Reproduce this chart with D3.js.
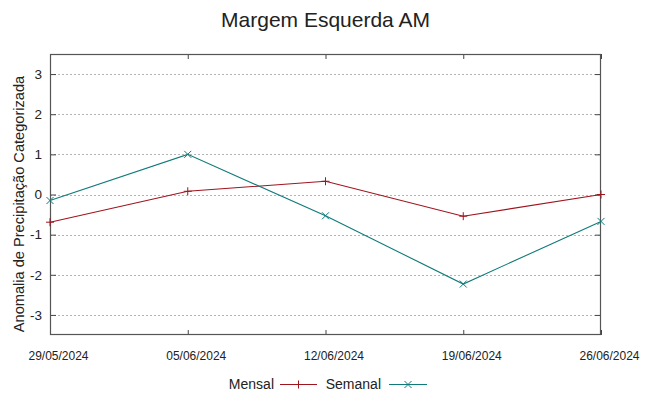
<!DOCTYPE html>
<html>
<head>
<meta charset="utf-8">
<script src="https://cdn.jsdelivr.net/npm/d3@7"></script>
<style>
  body { margin: 0; background: #fff; }
  text { font-family: "Liberation Sans", Arial, sans-serif; fill: #222; }
</style>
</head>
<body>
<svg id="chart" width="649" height="396"></svg>
<script>
const title = "Margem Esquerda AM";
const yLabel = "Anomalia de Precipitação Categorizada";
const dates = ["29/05/2024", "05/06/2024", "12/06/2024", "19/06/2024", "26/06/2024"];
const mensal = [-0.69, 0.08, 0.33, -0.54, 0.0];
const semanal = [-0.15, 1.0, -0.53, -2.23, -0.67];
const yTicks = [-3, -2, -1, 0, 1, 2, 3];
const seriesNames = ["Mensal", "Semanal"];
const colors = ["#a0141e", "#0f7a7a"];

const svg = d3.select("#chart");
const mLeft = 50, mRight = 601, mTop = 54, mBottom = 335;

const parse = d3.timeParse("%d/%m/%Y");
const xDates = dates.map(parse);
const x = d3.scaleTime().domain([xDates[0], xDates[xDates.length - 1]]).range([mLeft, mRight]);
const y = d3.scaleLinear().domain([-3.5, 3.5]).range([mBottom, mTop]);

// grid
svg.append("g").selectAll("line").data(yTicks).join("line")
  .attr("x1", mLeft).attr("x2", mRight)
  .attr("y1", d => Math.round(y(d)) + 0.5).attr("y2", d => Math.round(y(d)) + 0.5)
  .attr("stroke", "#b4b4b4").attr("stroke-width", 1).attr("stroke-dasharray", "2,2");

// y axis (left) ticks inward + labels
const yAxis = d3.axisLeft(y).tickValues(yTicks).tickSize(-6).tickPadding(8).tickFormat(d => String(d));
const gy = svg.append("g").attr("transform", `translate(${mLeft},0)`).call(yAxis);
gy.select(".domain").remove();
gy.selectAll(".tick line").attr("stroke", "#444");
gy.selectAll(".tick text").attr("font-size", 13.5).attr("font-family", "Liberation Sans, Arial, sans-serif").attr("fill", "#222");
// right mirror ticks
const gyr = svg.append("g").attr("transform", `translate(${mRight},0)`)
  .call(d3.axisRight(y).tickValues(yTicks).tickSize(-6).tickFormat(""));
gyr.select(".domain").remove();
gyr.selectAll(".tick line").attr("stroke", "#444");

// x axis ticks
const gx = svg.append("g").attr("transform", `translate(0,${mBottom})`)
  .call(d3.axisBottom(x).tickValues(xDates).tickSize(-5).tickPadding(16).tickFormat(d3.timeFormat("%d/%m/%Y")));
gx.select(".domain").remove();
gx.selectAll(".tick line").attr("stroke", "#444");
gx.selectAll(".tick text").attr("font-size", 12).attr("dx", 8).attr("font-family", "Liberation Sans, Arial, sans-serif").attr("fill", "#222");
const gxt = svg.append("g").attr("transform", `translate(0,${mTop})`)
  .call(d3.axisTop(x).tickValues(xDates).tickSize(-5).tickFormat(""));
gxt.select(".domain").remove();
gxt.selectAll(".tick line").attr("stroke", "#444");

// frame
svg.append("rect").attr("x", mLeft + 0.5).attr("y", mTop + 0.5)
  .attr("width", mRight - mLeft - 1).attr("height", mBottom - mTop - 1)
  .attr("fill", "none").attr("stroke", "#555").attr("stroke-width", 1.2);

// lines
const line = d3.line().x((d, i) => x(xDates[i])).y(d => y(d));
const allSeries = [mensal, semanal];
allSeries.forEach((s, k) => {
  svg.append("path").datum(s).attr("d", line)
    .attr("fill", "none").attr("stroke", colors[k]).attr("stroke-width", 1.1);
});
// markers
function plus(cx, cy, r) { return `M${cx - r},${cy}H${cx + r}M${cx},${cy - r}V${cy + r}`; }
function cross(cx, cy, r) { return `M${cx - r},${cy - r}L${cx + r},${cy + r}M${cx - r},${cy + r}L${cx + r},${cy - r}`; }
const markerFns = [plus, cross];
allSeries.forEach((s, k) => {
  svg.append("g").selectAll("path").data(s).join("path")
    .attr("d", (d, i) => markerFns[k](x(xDates[i]), y(d), k === 0 ? 4 : 3.5))
    .attr("stroke", colors[k]).attr("stroke-width", 1).attr("fill", "none");
});

// title
svg.append("text").attr("x", 325.5).attr("y", 27).attr("text-anchor", "middle")
  .attr("font-size", 21).text(title);

// y label
svg.append("text").attr("transform", "translate(24,204) rotate(-90)")
  .attr("text-anchor", "middle").attr("font-size", 14.6).text(yLabel);

// legend
const legendY = 384;
const legendItems = [
  { textEnd: 274, l1: 280, l2: 317 },
  { textEnd: 381, l1: 389, l2: 427 }
];
legendItems.forEach((it, k) => {
  svg.append("text").attr("x", it.textEnd).attr("y", legendY + 5).attr("text-anchor", "end")
    .attr("font-size", 14).text(seriesNames[k]);
  svg.append("line").attr("x1", it.l1).attr("x2", it.l2).attr("y1", legendY + 0.5).attr("y2", legendY + 0.5)
    .attr("stroke", colors[k]).attr("stroke-width", 1.1);
  svg.append("path").attr("d", markerFns[k]((it.l1 + it.l2) / 2, legendY + 0.5, k === 0 ? 4 : 3.5))
    .attr("stroke", colors[k]).attr("fill", "none");
});
</script>
</body>
</html>
